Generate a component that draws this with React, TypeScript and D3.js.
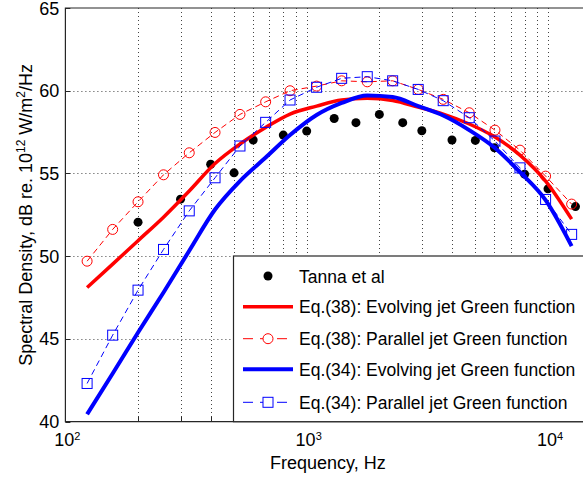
import React, { useEffect, useRef } from 'react';
import * as d3 from 'd3';

// values
const freqTanna = [200, 300, 400, 500, 600, 800, 1000, 1300, 1600, 2000, 2500, 3000, 4000, 5000, 6000, 8000, 10000, 13000];
const dbTanna = [52.06, 53.45, 55.56, 55.04, 57.02, 57.32, 57.56, 58.32, 58.07, 58.57, 58.07, 57.58, 57.02, 57.0, 56.55, 54.96, 54.07, 53.0];

const freqModel = [123, 157, 200, 255, 326, 417, 529, 676, 853, 1099, 1396, 1782, 2271, 2898, 3679, 4717, 6029, 7652, 9773, 12530];
const eq38Evolving = [48.11, 49.52, 50.94, 52.36, 53.94, 55.6, 56.78, 57.78, 58.59, 59.07, 59.44, 59.54, 59.41, 59.01, 58.59, 57.99, 57.2, 56.11, 54.54, 52.24];
const eq38Parallel = [49.7, 51.62, 53.29, 54.92, 56.25, 57.48, 58.57, 59.33, 60.0, 60.28, 60.6, 60.54, 60.6, 60.08, 59.48, 58.67, 57.62, 56.41, 54.84, 53.15];
const eq34Evolving = [40.45, 42.91, 45.39, 47.81, 50.33, 52.82, 54.54, 55.96, 57.32, 58.53, 59.26, 59.71, 59.62, 59.07, 58.5, 57.62, 56.54, 55.08, 53.39, 50.61];
const eq34Parallel = [42.31, 45.23, 47.95, 50.41, 52.74, 54.74, 56.66, 58.09, 59.44, 60.21, 60.75, 60.85, 60.6, 60.08, 59.4, 58.37, 56.96, 55.34, 53.43, 51.32];

const yTicks = [40, 45, 50, 55, 60, 65];
const xMajor = [100, 1000, 10000];
const xExponents = ['2', '3', '4'];

const legendLabels = [
  'Tanna et al',
  'Eq.(38): Evolving jet Green function',
  'Eq.(38): Parallel jet Green function',
  'Eq.(34): Evolving jet Green function',
  'Eq.(34): Parallel jet Green function',
];

const FONT = 'Liberation Sans, Arial, sans-serif';

export default function App() {
  const ref = useRef<SVGSVGElement>(null);

  useEffect(() => {
    const svg = d3.select(ref.current);
    svg.selectAll('*').remove();

    const left = 65.4, top = 8, bottom = 421.7;
    const x = d3.scaleLog().domain([100, 15000]).range([left, left + 241.3 * Math.log10(150)]);
    const y = d3.scaleLinear().domain([40, 65]).range([bottom, top]);
    const right = x(15000);

    svg.append('rect').attr('width', 583).attr('height', 479).attr('fill', '#fff');

    // grid
    const minor: number[] = [];
    [100, 1000, 10000].forEach(d => {
      for (let k = 2; k <= 9; k++) if (d * k < 15000) minor.push(d * k);
    });
    const grid = svg.append('g').attr('stroke', '#444').attr('stroke-width', 1).attr('stroke-dasharray', '1,3');
    grid.selectAll('.vx').data(minor.concat([1000, 10000])).enter().append('line')
      .attr('x1', d => Math.round(x(d)) + 0.5).attr('x2', d => Math.round(x(d)) + 0.5)
      .attr('y1', top).attr('y2', bottom);
    grid.selectAll('.hy').data([45, 50, 55, 60]).enter().append('line')
      .attr('x1', left).attr('x2', right)
      .attr('y1', d => Math.round(y(d)) + 0.5).attr('y2', d => Math.round(y(d)) + 0.5);

    // ticks (inward)
    const ticks = svg.append('g').attr('stroke', '#262626').attr('stroke-width', 1);
    ticks.selectAll('.tx').data(minor).enter().append('line')
      .attr('x1', d => Math.round(x(d)) + 0.5).attr('x2', d => Math.round(x(d)) + 0.5)
      .attr('y1', bottom).attr('y2', bottom - 5);
    ticks.selectAll('.tX').data(xMajor).enter().append('line')
      .attr('x1', d => Math.round(x(d)) + 0.5).attr('x2', d => Math.round(x(d)) + 0.5)
      .attr('y1', bottom).attr('y2', bottom - 7);
    ticks.selectAll('.ty').data(yTicks).enter().append('line')
      .attr('x1', left).attr('x2', left + 5)
      .attr('y1', d => Math.round(y(d)) + 0.5).attr('y2', d => Math.round(y(d)) + 0.5);

    // box
    svg.append('path')
      .attr('d', `M${right},${top}H${left}V${bottom}H${right}`)
      .attr('fill', 'none').attr('stroke', '#262626').attr('stroke-width', 1.2);

    // tick labels
    svg.selectAll('.yl').data(yTicks).enter().append('text')
      .attr('x', left - 6).attr('y', d => y(d) + 6.5)
      .attr('text-anchor', 'end').attr('font-family', FONT).attr('font-size', 18).attr('fill', '#000')
      .text(d => d);
    const xl = svg.selectAll('.xl').data(xMajor).enter().append('text')
      .attr('x', d => x(d) + 2).attr('y', 446)
      .attr('text-anchor', 'middle').attr('font-family', FONT).attr('font-size', 18).attr('fill', '#000');
    xl.append('tspan').text('10');
    xl.append('tspan').attr('dy', -6).attr('font-size', 11).text((d, i) => xExponents[i]);

    svg.append('text').attr('x', (left + right) / 2).attr('y', 469)
      .attr('text-anchor', 'middle').attr('font-family', FONT).attr('font-size', 18)
      .text('Frequency, Hz');

    const yl = svg.append('text')
      .attr('transform', `translate(32,${(top + bottom) / 2}) rotate(-90)`)
      .attr('text-anchor', 'middle').attr('font-family', FONT).attr('font-size', 18);
    yl.append('tspan').text('Spectral Density, dB re. 10');
    yl.append('tspan').attr('dy', -7).attr('font-size', 12).text('12');
    yl.append('tspan').attr('dy', 7).text(' W/m');
    yl.append('tspan').attr('dy', -7).attr('font-size', 12).text('2');
    yl.append('tspan').attr('dy', 7).text('/Hz');

    const line = d3.line<number>().x((d, i) => x(freqModel[i])).y(d => y(d)).curve(d3.curveMonotoneX);
    const dashLine = d3.line<number>().x((d, i) => x(freqModel[i])).y(d => y(d));

    // series
    svg.append('g').selectAll('circle').data(dbTanna).enter().append('circle')
      .attr('cx', (d, i) => x(freqTanna[i])).attr('cy', d => y(d)).attr('r', 4.5).attr('fill', '#000');

    svg.append('path').attr('d', line(eq38Evolving)).attr('fill', 'none')
      .attr('stroke', '#ff0000').attr('stroke-width', 3.5);
    svg.append('path').attr('d', dashLine(eq38Parallel)).attr('fill', 'none')
      .attr('stroke', '#ff0000').attr('stroke-width', 1).attr('stroke-dasharray', '6,4');
    svg.append('g').selectAll('circle').data(eq38Parallel).enter().append('circle')
      .attr('cx', (d, i) => x(freqModel[i])).attr('cy', d => y(d)).attr('r', 5)
      .attr('fill', 'none').attr('stroke', '#ff0000').attr('stroke-width', 1);

    svg.append('path').attr('d', line(eq34Evolving)).attr('fill', 'none')
      .attr('stroke', '#0000ff').attr('stroke-width', 4);
    svg.append('path').attr('d', dashLine(eq34Parallel)).attr('fill', 'none')
      .attr('stroke', '#0000ff').attr('stroke-width', 1).attr('stroke-dasharray', '6,4');
    svg.append('g').selectAll('rect').data(eq34Parallel).enter().append('rect')
      .attr('x', (d, i) => x(freqModel[i]) - 5).attr('y', d => y(d) - 5)
      .attr('width', 10).attr('height', 10)
      .attr('fill', 'none').attr('stroke', '#0000ff').attr('stroke-width', 1);

    // legend
    const lg = svg.append('g');
    lg.append('rect').attr('x', 233.5).attr('y', 256).attr('width', 400).attr('height', bottom - 256)
      .attr('fill', '#fff').attr('stroke', '#262626').attr('stroke-width', 1.2);
    const rows = [276, 306.7, 338.7, 369.3, 402.3];
    const x0 = 243, x1 = 293, xm = 268;
    lg.append('circle').attr('cx', xm).attr('cy', rows[0]).attr('r', 4.5).attr('fill', '#000');
    lg.append('line').attr('x1', x0).attr('x2', x1).attr('y1', rows[1]).attr('y2', rows[1])
      .attr('stroke', '#ff0000').attr('stroke-width', 3.5);
    lg.append('line').attr('x1', x0).attr('x2', x1).attr('y1', rows[2]).attr('y2', rows[2])
      .attr('stroke', '#ff0000').attr('stroke-width', 1).attr('stroke-dasharray', '10,7');
    lg.append('circle').attr('cx', xm).attr('cy', rows[2]).attr('r', 5)
      .attr('fill', '#fff').attr('stroke', '#ff0000');
    lg.append('line').attr('x1', x0).attr('x2', x1).attr('y1', rows[3]).attr('y2', rows[3])
      .attr('stroke', '#0000ff').attr('stroke-width', 4);
    lg.append('line').attr('x1', x0).attr('x2', x1).attr('y1', rows[4]).attr('y2', rows[4])
      .attr('stroke', '#0000ff').attr('stroke-width', 1).attr('stroke-dasharray', '10,7');
    lg.append('rect').attr('x', xm - 5).attr('y', rows[4] - 5).attr('width', 10).attr('height', 10)
      .attr('fill', '#fff').attr('stroke', '#0000ff');
    lg.selectAll('.lt').data(legendLabels).enter().append('text')
      .attr('x', 299).attr('y', (d, i) => rows[i] + 6.5)
      .attr('font-family', FONT).attr('font-size', 17.5).attr('fill', '#000')
      .text(d => d);
  }, []);

  return (
    <svg ref={ref} width={583} height={479} style={{ position: 'absolute', left: 0, top: 0 }} />
  );
}
